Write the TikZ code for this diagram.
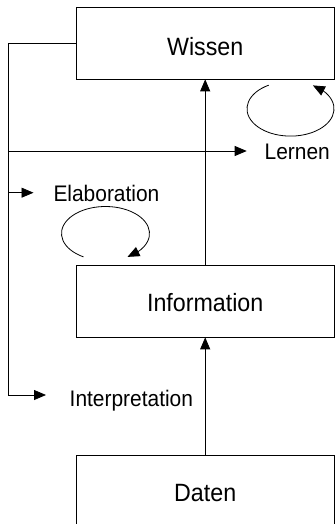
\documentclass[tikz,border=0pt]{standalone}
\usepackage{fontspec}
\setmainfont{Liberation Sans}[FakeStretch=0.93]
\usetikzlibrary{arrows.meta,bending}
\begin{document}
\begin{tikzpicture}[x=1pt,y=1pt,
  box/.style={draw,line width=0.8pt,minimum width=258pt,minimum height=71.5pt,inner sep=0pt,font=\fontsize{25}{30}\selectfont},
  lab/.style={inner sep=0pt,anchor=base west,font=\fontsize{22.5}{27}\selectfont},
  conn/.style={line width=0.8pt},
  arr/.style={conn,-{Triangle[length=12pt,width=10pt]}}]
\useasboundingbox (0,0) rectangle (335,-524);
% boxes
\node[box,text height=25pt,text depth=0pt] (wissen) at (205.2,-43.2) {Wissen};
\node[box,text height=19.6pt,text depth=0pt] (info) at (205.2,-301.2) {Information};
\node[box,text height=21.4pt,text depth=0pt] (daten) at (205.2,-491) {Daten};
% labels
\node[lab] (lernen) at (264.5,-159.3) {Lernen};
\node[lab] (elab) at (53.3,-201.7) {Elaboration};
\node[lab] (interp) at (69.5,-406) {Interpretation};
% coordinates
\coordinate (cL) at (8,-395);
\coordinate (tI) at (46,-395);
\coordinate (jL) at (8,-151);
\coordinate (tL) at (246.7,-151);
\coordinate (jE) at (8,-192.7);
\coordinate (tE) at (33.5,-192.7);
\coordinate (lw) at (290.5,-108.8);
\coordinate (le) at (105.5,-233.5);
% vertical arrows
\draw[arr] (info.north) -- (wissen.south);
\draw[arr] (daten.north) -- (info.south);
% feedback line
\draw[arr] (wissen.west) -| (cL) -- (tI);
\draw[arr] (jL) -- (tL);
\draw[arr] (jE) -- (tE);
% loops
\draw[arr] (lw) ++(120:43.5pt and 27.3pt) arc[start angle=120,end angle=419,x radius=43.5pt,y radius=27.3pt];
\draw[arr] (le) ++(240:44pt and 27pt) arc[start angle=240,end angle=-60,x radius=44pt,y radius=27pt];
\end{tikzpicture}
\end{document}
